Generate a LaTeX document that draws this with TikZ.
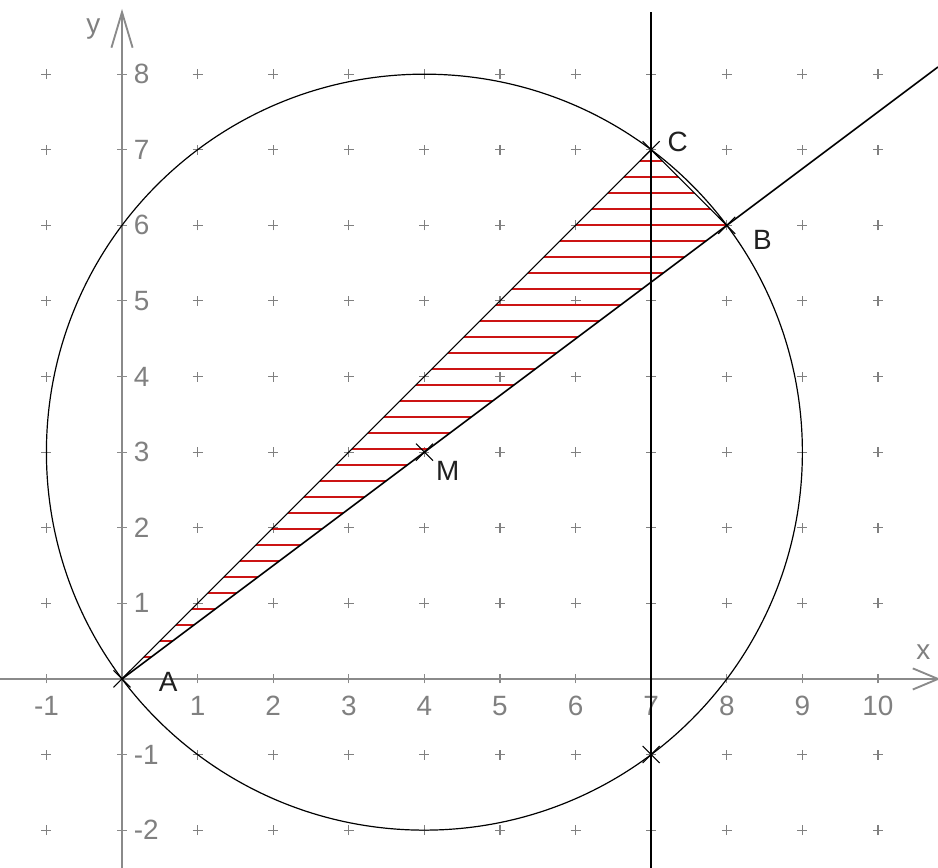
\documentclass[tikz,border=0pt]{standalone}
\usepackage{fontspec}
\setmainfont{Liberation Sans}
\usetikzlibrary{shapes.misc}
\definecolor{axisgray}{HTML}{8A8A8A}
\definecolor{numgray}{HTML}{808080}
\definecolor{hatchred}{HTML}{CC1414}
\definecolor{lblblack}{HTML}{202020}
\begin{document}
\begin{tikzpicture}[x=1cm,y=1cm,
  font=\fontsize{10.5}{12}\selectfont,
  gridplus/.style={draw=numgray,line width=0.4pt},
  axisline/.style={draw=axisgray,line width=0.7pt},
  num/.style={text=numgray,inner sep=0pt},
  lbl/.style={text=lblblack,inner sep=0pt},
  curve/.style={draw=black,line width=0.45pt},
  vline/.style={draw=black,line width=0.6pt},
  rayline/.style={draw=black,line width=0.6pt},
  sideline/.style={draw=black,line width=0.4pt},
  hatchline/.style={draw=hatchred,line width=0.75pt},
  ptmark/.style={cross out,draw=black,line width=0.4pt,inner sep=0pt,minimum size=6pt}]
\useasboundingbox (-1.614,-2.5) rectangle (10.794,8.981);
% grid of plus marks
\foreach \x in {-1,1,2,...,10}
  \foreach \y in {-2,-1,1,2,...,8}
    \draw[gridplus] (\x-0.066,\y) -- (\x+0.066,\y) (\x,\y-0.066) -- (\x,\y+0.066);
% axes
\coordinate (xl) at (-1.614,0);
\coordinate (xr) at (10.794,0);
\coordinate (yb) at (0,-2.5);
\coordinate (yt) at (0,8.82);
\draw[axisline] (xl) -- (xr);
\draw[axisline] (yb) -- (yt);
\draw[axisline] (10.46,0.14) -- (xr) -- (10.46,-0.14);
\draw[axisline] (-0.14,8.35) -- (yt) -- (0.14,8.35);
\foreach \x in {-1,1,2,...,10}
  \draw[axisline,line width=0.4pt] (\x,-0.06) -- (\x,0.06);
\foreach \y in {-2,-1,1,2,...,8}
  \draw[axisline,line width=0.4pt] (-0.06,\y) -- (0.06,\y);
\foreach \x [count=\i] in {-1,1,2,...,10}
  \node[num] (xn\i) at (\x,-0.36) {\x};
\foreach \y [count=\i] in {-2,-1,1,2,...,8}
  \node[num,anchor=west] (yn\i) at (0.15,\y) {\y};
\node[num] (xlab) at (10.6,0.36) {x};
\node[num] (ylab) at (-0.38,8.6) {y};
% points
\coordinate (A) at (0,0);
\coordinate (B) at (8,6);
\coordinate (C) at (7,7);
\coordinate (M) at (4,3);
\coordinate (D) at (7,-1);
\coordinate (R) at (10.794,8.0955);
\coordinate (Vt) at (7,8.82);
\coordinate (Vb) at (7,-2.5);
% hatching
\begin{scope}
  \clip (A) -- (C) -- (B) -- cycle;
  \foreach \k in {0,...,31}
    \draw[hatchline] (-0.5,0.291+\k*0.2118) -- (9,0.291+\k*0.2118);
\end{scope}
% circle and lines
\draw[curve] (M) circle (5);
\draw[vline] (Vt) -- (Vb);
\draw[sideline] (A) -- (C) -- (B);
\draw[rayline] (A) -- (R);
% point marks
\node[ptmark] (pA) at (A) {};
\node[ptmark] (pB) at (B) {};
\node[ptmark] (pC) at (C) {};
\node[ptmark] (pM) at (M) {};
\node[ptmark] (pD) at (D) {};
% labels
\node[lbl] (lA) at (0.61,-0.04) {A};
\node[lbl] (lB) at (8.47,5.81) {B};
\node[lbl] (lC) at (7.35,7.10) {C};
\node[lbl] (lM) at (4.31,2.75) {M};
\end{tikzpicture}
\end{document}
